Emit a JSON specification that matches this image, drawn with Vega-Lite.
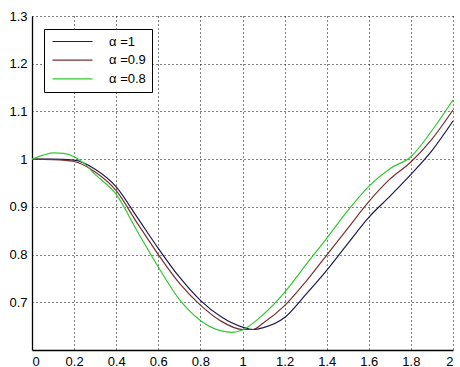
{
  "$schema": "https://vega.github.io/schema/vega-lite/v6.json",
  "width": 421,
  "height": 334,
  "autosize": "none",
  "padding": {"left": 32, "top": 16, "right": 7, "bottom": 17},
  "background": "white",
  "config": {
    "view": {"stroke": null},
    "font": "Liberation Sans",
    "axis": {
      "labelFont": "Liberation Sans",
      "labelFontSize": 13,
      "labelColor": "#000",
      "domainColor": "#000",
      "domainWidth": 1.3,
      "ticks": false,
      "grid": true,
      "gridColor": "#000",
      "gridOpacity": 1,
      "gridDash": [1, 3],
      "gridWidth": 1,
      "title": null
    }
  },
  "datasets": {
    "curves": [
      {"x": 0, "y": 1.0, "s": "α =1"},
      {"x": 0.1, "y": 1.0, "s": "α =1"},
      {"x": 0.2, "y": 0.998, "s": "α =1"},
      {"x": 0.3, "y": 0.979, "s": "α =1"},
      {"x": 0.4, "y": 0.942, "s": "α =1"},
      {"x": 0.5, "y": 0.878, "s": "α =1"},
      {"x": 0.6, "y": 0.813, "s": "α =1"},
      {"x": 0.7, "y": 0.753, "s": "α =1"},
      {"x": 0.8, "y": 0.704, "s": "α =1"},
      {"x": 0.9, "y": 0.669, "s": "α =1"},
      {"x": 1.0, "y": 0.648, "s": "α =1"},
      {"x": 1.05, "y": 0.643, "s": "α =1"},
      {"x": 1.1, "y": 0.647, "s": "α =1"},
      {"x": 1.2, "y": 0.668, "s": "α =1"},
      {"x": 1.3, "y": 0.716, "s": "α =1"},
      {"x": 1.4, "y": 0.767, "s": "α =1"},
      {"x": 1.5, "y": 0.823, "s": "α =1"},
      {"x": 1.6, "y": 0.878, "s": "α =1"},
      {"x": 1.7, "y": 0.922, "s": "α =1"},
      {"x": 1.8, "y": 0.968, "s": "α =1"},
      {"x": 1.9, "y": 1.018, "s": "α =1"},
      {"x": 2.0, "y": 1.08, "s": "α =1"},
      {"x": 0, "y": 1.0, "s": "α =0.9"},
      {"x": 0.1, "y": 0.999, "s": "α =0.9"},
      {"x": 0.2, "y": 0.995, "s": "α =0.9"},
      {"x": 0.3, "y": 0.973, "s": "α =0.9"},
      {"x": 0.4, "y": 0.934, "s": "α =0.9"},
      {"x": 0.5, "y": 0.866, "s": "α =0.9"},
      {"x": 0.6, "y": 0.8, "s": "α =0.9"},
      {"x": 0.7, "y": 0.74, "s": "α =0.9"},
      {"x": 0.8, "y": 0.694, "s": "α =0.9"},
      {"x": 0.9, "y": 0.66, "s": "α =0.9"},
      {"x": 1.0, "y": 0.643, "s": "α =0.9"},
      {"x": 1.05, "y": 0.643, "s": "α =0.9"},
      {"x": 1.1, "y": 0.657, "s": "α =0.9"},
      {"x": 1.2, "y": 0.693, "s": "α =0.9"},
      {"x": 1.3, "y": 0.743, "s": "α =0.9"},
      {"x": 1.4, "y": 0.799, "s": "α =0.9"},
      {"x": 1.5, "y": 0.855, "s": "α =0.9"},
      {"x": 1.6, "y": 0.911, "s": "α =0.9"},
      {"x": 1.7, "y": 0.958, "s": "α =0.9"},
      {"x": 1.8, "y": 0.994, "s": "α =0.9"},
      {"x": 1.9, "y": 1.042, "s": "α =0.9"},
      {"x": 2.0, "y": 1.103, "s": "α =0.9"},
      {"x": 0, "y": 1.0, "s": "α =0.8"},
      {"x": 0.05, "y": 1.008, "s": "α =0.8"},
      {"x": 0.1, "y": 1.013, "s": "α =0.8"},
      {"x": 0.15, "y": 1.012, "s": "α =0.8"},
      {"x": 0.2, "y": 1.005, "s": "α =0.8"},
      {"x": 0.25, "y": 0.99, "s": "α =0.8"},
      {"x": 0.3, "y": 0.968, "s": "α =0.8"},
      {"x": 0.4, "y": 0.926, "s": "α =0.8"},
      {"x": 0.5, "y": 0.849, "s": "α =0.8"},
      {"x": 0.6, "y": 0.774, "s": "α =0.8"},
      {"x": 0.7, "y": 0.706, "s": "α =0.8"},
      {"x": 0.8, "y": 0.662, "s": "α =0.8"},
      {"x": 0.9, "y": 0.64, "s": "α =0.8"},
      {"x": 0.95, "y": 0.637, "s": "α =0.8"},
      {"x": 1.0, "y": 0.642, "s": "α =0.8"},
      {"x": 1.1, "y": 0.675, "s": "α =0.8"},
      {"x": 1.2, "y": 0.721, "s": "α =0.8"},
      {"x": 1.3, "y": 0.778, "s": "α =0.8"},
      {"x": 1.4, "y": 0.834, "s": "α =0.8"},
      {"x": 1.5, "y": 0.892, "s": "α =0.8"},
      {"x": 1.6, "y": 0.943, "s": "α =0.8"},
      {"x": 1.7, "y": 0.98, "s": "α =0.8"},
      {"x": 1.8, "y": 1.005, "s": "α =0.8"},
      {"x": 1.9, "y": 1.06, "s": "α =0.8"},
      {"x": 2.0, "y": 1.124, "s": "α =0.8"}
    ]
  },
  "data": {"name": "curves"},
  "mark": {"type": "line", "interpolate": "monotone", "strokeWidth": 1.2, "clip": true},
  "encoding": {
    "x": {
      "field": "x",
      "type": "quantitative",
      "scale": {"domain": [0, 2], "nice": false, "zero": false},
      "axis": {"values": [0, 0.2, 0.4, 0.6, 0.8, 1, 1.2, 1.4, 1.6, 1.8, 2], "format": "~g", "labelPadding": 5}
    },
    "y": {
      "field": "y",
      "type": "quantitative",
      "scale": {"domain": [0.6, 1.3], "nice": false, "zero": false},
      "axis": {"values": [0.7, 0.8, 0.9, 1, 1.1, 1.2, 1.3], "format": "~g", "labelPadding": 5}
    },
    "color": {
      "field": "s",
      "type": "nominal",
      "scale": {"domain": ["α =1", "α =0.9", "α =0.8"], "range": ["#1c1c50", "#7a3030", "#30c830"]},
      "legend": {
        "title": null,
        "orient": "none",
        "legendX": 12,
        "legendY": 13,
        "symbolType": "M-5,0H5",
        "symbolSize": 64,
        "symbolStrokeWidth": 1.2,
        "symbolOffset": 16,
        "labelOffset": 30,
        "labelFont": "Liberation Sans",
        "labelFontSize": 13,
        "labelColor": "#000",
        "rowPadding": 4.7,
        "padding": 6,
        "strokeColor": "#000",
        "fillColor": "#fff"
      }
    }
  }
}
